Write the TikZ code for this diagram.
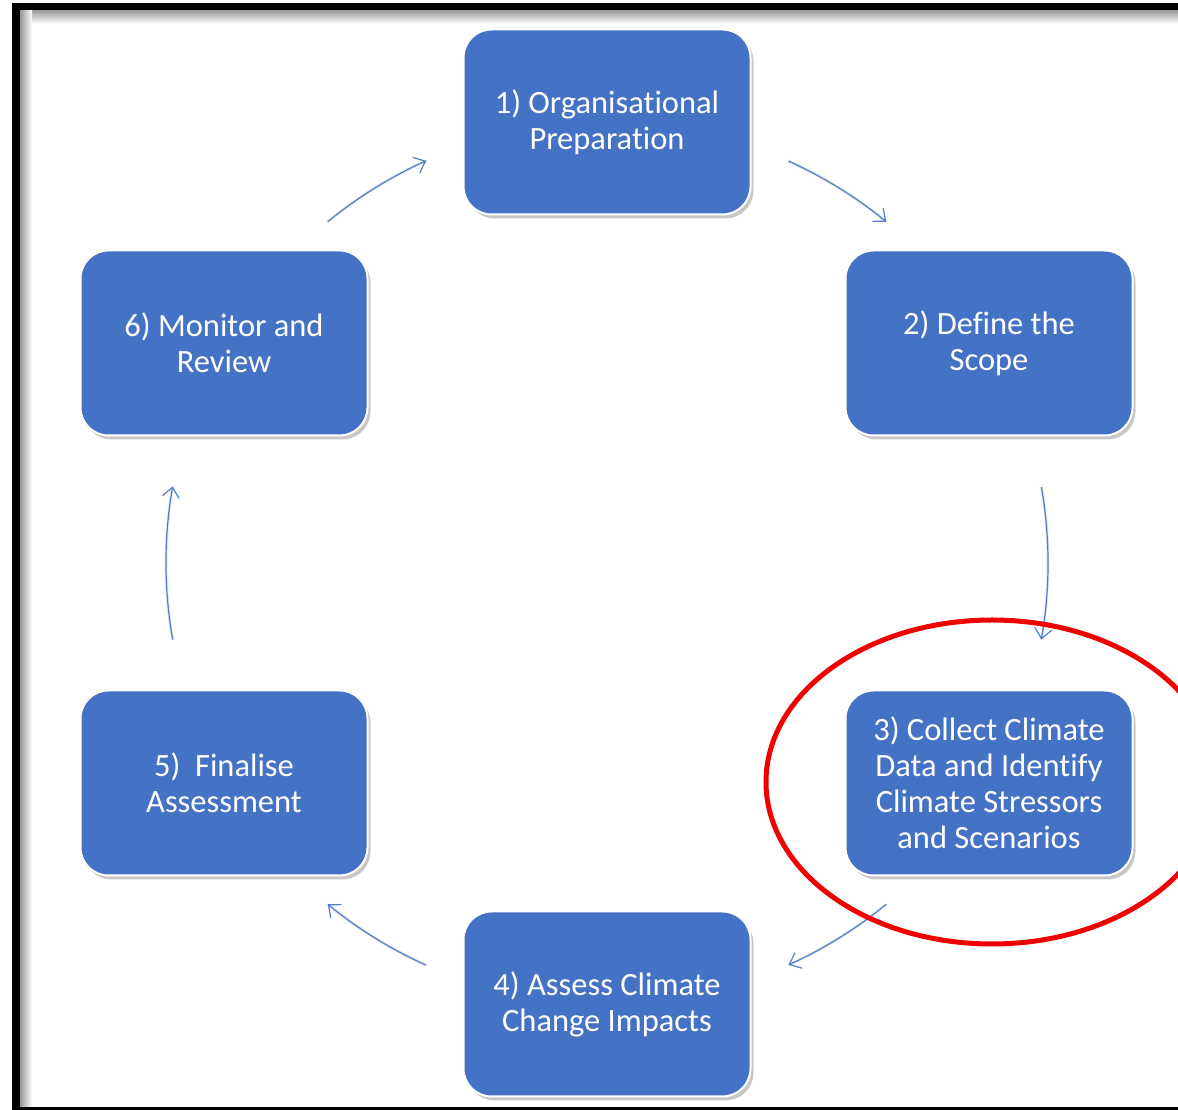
\documentclass[tikz,border=0pt]{standalone}
\usepackage{fontspec}
\setmainfont{Carlito}[Ligatures=NoCommon, RawFeature=-liga, RawFeature=-calt, RawFeature=-clig, RawFeature=-dlig]
\usetikzlibrary{arrows.meta,shadows,calc}
\definecolor{boxblue}{HTML}{4472C4}
\definecolor{arrblue}{HTML}{5080CC}
\definecolor{ringred}{RGB}{240,0,0}
\tikzset{
  stepbox/.style={rectangle, rounded corners=28pt, fill=boxblue, draw=white, line width=2pt,
    minimum width=287pt, minimum height=185pt, inner sep=0pt, text=white, align=center,
    font=\fontsize{32.5pt}{36pt}\selectfont,
    drop shadow={shadow xshift=3pt, shadow yshift=-4pt, opacity=0.3, fill=black!70}},
  arr/.style={draw=arrblue, line width=1.2pt, -{Straight Barb[length=10pt,width=17pt,line width=1.2pt]}},
  arrshadow/.style={draw=black!25, line width=3pt, opacity=0.35},
}
\begin{document}
\begin{tikzpicture}[x=1pt,y=1pt]
\useasboundingbox (0,0) rectangle (1178,1110);
\clip (0,0) rectangle (1178,1110);
\fill[white] (0,0) rectangle (1178,1110);
% frame with inner shadow
\shade[top color=black!40, bottom color=white] (20,1086) rectangle (1178,1100);
\shade[left color=black!40, right color=white] (20,0) rectangle (32,1100);
\fill[black] (12,1100) rectangle (1178,1107);
\fill[black] (12,0) rectangle (20,1107);
\fill[black] (12,0) rectangle (1178,3);

% nodes
\node[stepbox] (n1) at (607,988) {1) Organisational\\Preparation};
\node[stepbox] (n2) at (989,767) {2) Define the\\Scope};
\node[stepbox] (n3) at (989,327) {3) Collect Climate\\Data and Identify\\Climate Stressors\\and Scenarios};
\node[stepbox] (n4) at (607,106) {4) Assess Climate\\Change Impacts};
\node[stepbox] (n5) at (224,327) {5)\ \ Finalise\\Assessment};
\node[stepbox] (n6) at (224,767) {6) Monitor and\\Review};

% cycle centre and arc start points
\coordinate (C) at ($(n1)!0.5!(n4)$);
\coordinate (s61) at ($(C)+(129.3:441)$);
\coordinate (s12) at ($(C)+(65.7:441)$);
\coordinate (s23) at ($(C)+(9.9:441)$);
\coordinate (s34) at ($(C)+(-50.7:441)$);
\coordinate (s45) at ($(C)+(-114.2:441)$);
\coordinate (s56) at ($(C)+(190:441)$);

% soft shadows of connectors
\begin{scope}[shift={(3pt,-4pt)}]
\draw[arrshadow] (s61) arc[start angle=129.3, end angle=114.2, radius=441];
\draw[arrshadow] (s12) arc[start angle=65.7, end angle=50.7, radius=441];
\draw[arrshadow] (s23) arc[start angle=9.9, end angle=-10, radius=441];
\draw[arrshadow] (s34) arc[start angle=-50.7, end angle=-65.7, radius=441];
\draw[arrshadow] (s45) arc[start angle=-114.2, end angle=-129.3, radius=441];
\draw[arrshadow] (s56) arc[start angle=190, end angle=170, radius=441];
\end{scope}

% connectors
\draw[arr] (s61) arc[start angle=129.3, end angle=114.2, radius=441];
\draw[arr] (s12) arc[start angle=65.7, end angle=50.7, radius=441];
\draw[arr] (s23) arc[start angle=9.9, end angle=-10, radius=441];
\draw[arr] (s34) arc[start angle=-50.7, end angle=-65.7, radius=441];
\draw[arr] (s45) arc[start angle=-114.2, end angle=-129.3, radius=441];
\draw[arr] (s56) arc[start angle=190, end angle=170, radius=441];

% red highlight ellipse
\draw[ringred, line width=5pt] ($(n3)+(3,1)$) ellipse [x radius=226, y radius=162];
\end{tikzpicture}
\end{document}
